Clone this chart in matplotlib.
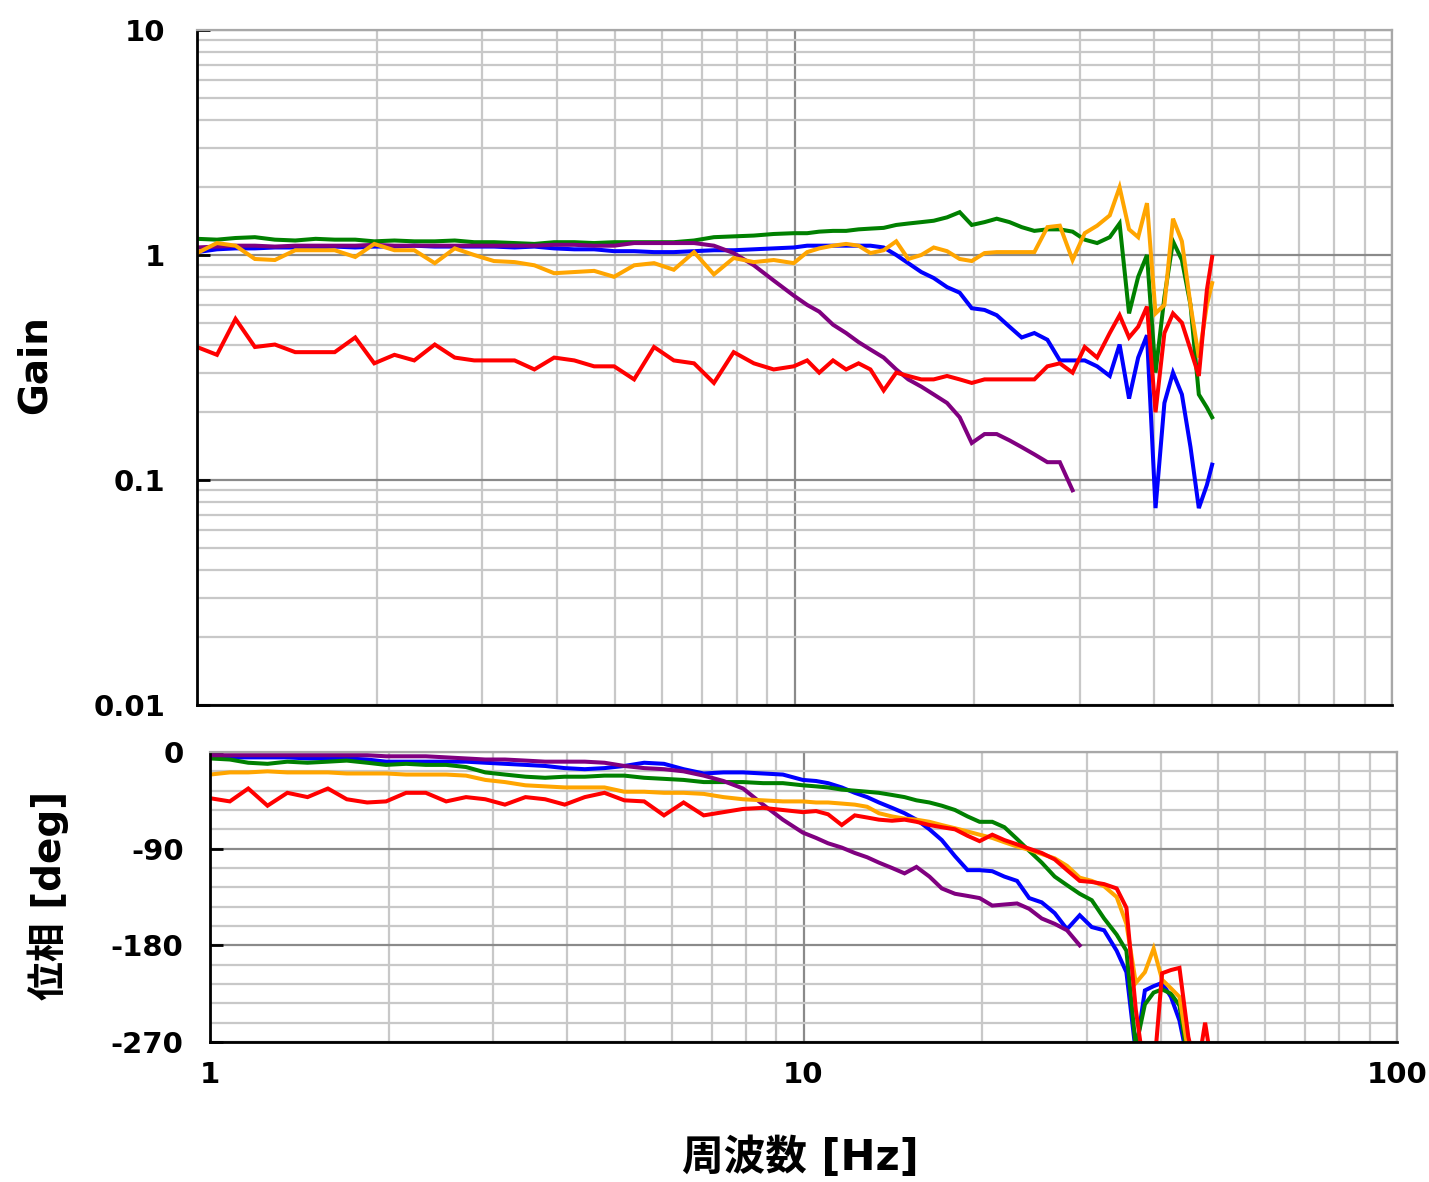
import matplotlib
matplotlib.use("Agg")
import matplotlib.pyplot as plt
import numpy as np
from matplotlib.ticker import LogLocator, FixedLocator, NullFormatter, MultipleLocator

plt.rcParams['font.family'] = ['DejaVu Sans', 'Noto Sans CJK JP']
plt.rcParams['font.weight'] = 'bold'

# ---------------- data ----------------
freq = [1.0, 1.08, 1.16, 1.25, 1.35, 1.46, 1.58, 1.7, 1.84, 1.98,
        2.14, 2.31, 2.5, 2.7, 2.91, 3.14, 3.4, 3.67, 3.96, 4.28,
        4.62, 4.99, 5.39, 5.82, 6.28, 6.79, 7.33, 7.91, 8.55, 9.23,
        9.97, 10.5, 11.0, 11.6, 12.2, 12.8, 13.4, 14.1, 14.8, 15.5,
        16.3, 17.1, 18.0, 18.9, 19.8, 20.8, 21.8, 22.9, 24.0, 25.2,
        26.5, 27.8, 29.2, 30.6, 32.1, 33.7, 35.0, 36.3, 37.6, 38.9,
        40.2, 41.6, 43.0, 44.5, 46.0, 47.5, 49.0, 50.0]

gain_green = [1.18, 1.17, 1.19, 1.2, 1.17, 1.16, 1.18, 1.17, 1.17, 1.15,
              1.16, 1.15, 1.15, 1.16, 1.14, 1.14, 1.13, 1.12, 1.14, 1.14,
              1.13, 1.14, 1.14, 1.14, 1.14, 1.16, 1.2, 1.21, 1.22, 1.24,
              1.25, 1.25, 1.27, 1.28, 1.28, 1.3, 1.31, 1.32, 1.36, 1.38,
              1.4, 1.42, 1.47, 1.55, 1.36, 1.4, 1.45, 1.4, 1.33, 1.28,
              1.3, 1.3, 1.27, 1.17, 1.13, 1.2, 1.38, 0.55, 0.8, 1.0,
              0.3, 0.65, 1.15, 0.95, 0.6, 0.24, 0.21, 0.19]
gain_blue = [1.03, 1.06, 1.07, 1.07, 1.08, 1.08, 1.08, 1.09, 1.08, 1.09,
             1.09, 1.1, 1.09, 1.09, 1.09, 1.09, 1.08, 1.09, 1.07, 1.06,
             1.06, 1.04, 1.04, 1.03, 1.03, 1.04, 1.05, 1.05, 1.06, 1.07,
             1.08, 1.1, 1.1, 1.1, 1.1, 1.1, 1.1, 1.08, 1.0, 0.92,
             0.84, 0.79, 0.72, 0.68, 0.58, 0.57, 0.54, 0.48, 0.43, 0.45,
             0.42, 0.34, 0.34, 0.34, 0.32, 0.29, 0.4, 0.23, 0.35, 0.44,
             0.075, 0.22, 0.3, 0.24, 0.14, 0.075, 0.095, 0.117]
gain_purple = [1.08, 1.09, 1.1, 1.1, 1.09, 1.1, 1.1, 1.1, 1.1, 1.11,
               1.1, 1.1, 1.1, 1.1, 1.1, 1.1, 1.1, 1.1, 1.11, 1.11,
               1.1, 1.1, 1.13, 1.13, 1.13, 1.13, 1.1, 1.02, 0.9, 0.77,
               0.66, 0.6, 0.56, 0.49, 0.45, 0.41, 0.38, 0.35, 0.31, 0.28,
               0.26, 0.24, 0.22, 0.19, 0.146, 0.16, 0.16, 0.15, 0.14, 0.13,
               0.12, 0.12, 0.09]
gain_orange = [1.02, 1.13, 1.1, 0.96, 0.95, 1.05, 1.05, 1.05, 0.98, 1.12,
               1.05, 1.05, 0.92, 1.07, 1.0, 0.94, 0.93, 0.9, 0.83, 0.84,
               0.85, 0.8, 0.9, 0.92, 0.86, 1.03, 0.82, 0.97, 0.93, 0.95,
               0.92, 1.03, 1.07, 1.1, 1.12, 1.1, 1.02, 1.05, 1.15, 0.96,
               1.0, 1.08, 1.04, 0.96, 0.94, 1.02, 1.03, 1.03, 1.03, 1.03,
               1.33, 1.35, 0.95, 1.25, 1.35, 1.5, 2.0, 1.3, 1.2, 1.7,
               0.55, 0.6, 1.45, 1.15, 0.6, 0.35, 0.6, 0.75]
gain_red = [0.39, 0.36, 0.52, 0.39, 0.4, 0.37, 0.37, 0.37, 0.43, 0.33,
            0.36, 0.34, 0.4, 0.35, 0.34, 0.34, 0.34, 0.31, 0.35, 0.34,
            0.32, 0.32, 0.28, 0.39, 0.34, 0.33, 0.27, 0.37, 0.33, 0.31,
            0.32, 0.34, 0.3, 0.34, 0.31, 0.33, 0.31, 0.25, 0.3, 0.29,
            0.28, 0.28, 0.29, 0.28, 0.27, 0.28, 0.28, 0.28, 0.28, 0.28,
            0.32, 0.33, 0.3, 0.39, 0.35, 0.45, 0.54, 0.43, 0.48, 0.59,
            0.2, 0.45, 0.55, 0.5, 0.38, 0.29, 0.7, 0.98]

phase_green = [-6, -7, -10, -11, -9, -10, -9, -8, -10, -12,
               -11, -12, -12, -14, -19, -21, -23, -24, -23, -23,
               -22, -22, -24, -25, -26, -28, -28, -28, -29, -29,
               -31, -32, -33, -35, -36, -37, -38, -40, -42, -45,
               -47, -50, -54, -60, -65, -65, -70, -81, -92, -103,
               -116, -124, -132, -138, -155, -170, -185, -275, -235, -224,
               -221, -225, -236, -290, -300, -300, -300, -300]
phase_blue = [-5, -5, -5, -5, -5, -6, -6, -6, -7, -9,
              -9, -9, -9, -9, -10, -11, -12, -13, -15, -16,
              -15, -13, -10, -11, -16, -20, -19, -19, -20, -21,
              -26, -27, -29, -33, -38, -42, -47, -52, -57, -63,
              -72, -82, -97, -110, -110, -111, -116, -120, -136, -140,
              -150, -165, -152, -163, -166, -185, -205, -280, -222, -218,
              -215, -228, -250, -290, -300, -300, -300, -300]
phase_purple = [-3, -3, -3, -3, -3, -3, -3, -3, -3, -4,
                -4, -4, -5, -6, -7, -7, -8, -9, -9, -9,
                -10, -13, -15, -16, -18, -22, -27, -34, -49, -63,
                -75, -80, -85, -89, -94, -98, -103, -108, -113, -107,
                -116, -127, -132, -134, -136, -143, -142, -141, -146, -155,
                -160, -166, -180]
phase_orange = [-21, -19, -19, -18, -19, -19, -19, -20, -20, -20,
                -21, -21, -21, -22, -26, -28, -31, -32, -33, -33,
                -33, -37, -37, -38, -38, -39, -42, -44, -45, -46,
                -46, -47, -47, -48, -49, -51, -57, -60, -62, -63,
                -65, -68, -71, -74, -77, -80, -84, -88, -91, -95,
                -99, -106, -117, -120, -125, -135, -160, -215, -205, -183,
                -212, -220, -228, -280, -300, -300, -300, -300]
phase_red = [-43, -46, -34, -50, -38, -42, -34, -44, -47, -46,
             -38, -38, -46, -42, -44, -49, -42, -44, -49, -42,
             -38, -45, -46, -59, -47, -59, -56, -53, -52, -54,
             -56, -55, -58, -68, -59, -61, -63, -64, -63, -65,
             -68, -70, -72, -78, -83, -77, -82, -86, -90, -94,
             -100, -110, -120, -121, -123, -127, -145, -240, -300, -300,
             -206, -203, -201, -265, -300, -252, -300, -300]

series = [
    ("blue", "#0000ff", gain_blue, phase_blue),
    ("green", "#008000", gain_green, phase_green),
    ("purple", "#800080", gain_purple, phase_purple),
    ("orange", "#ffa500", gain_orange, phase_orange),
    ("red", "#ff0000", gain_red, phase_red),
]

# ---------------- figure ----------------
W, H = 1429, 1182
fig = plt.figure(figsize=(W / 100, H / 100), dpi=100)

def fr(x0, y0, x1, y1):
    return [x0 / W, 1 - y1 / H, (x1 - x0) / W, (y1 - y0) / H]

ax1 = fig.add_axes(fr(197, 30, 1392, 705))
ax2 = fig.add_axes(fr(210, 752, 1397, 1042))

minor_c = '#c8c8c8'
major_c = '#8a8a8a'

for ax in (ax1, ax2):
    ax.set_xscale('log')
    ax.set_xlim(1, 100)
    ax.xaxis.set_major_locator(LogLocator(base=10, numticks=10))
    ax.xaxis.set_minor_locator(LogLocator(base=10, subs=np.arange(2, 10), numticks=20))
    ax.xaxis.set_minor_formatter(NullFormatter())
    ax.grid(which='minor', color=minor_c, lw=1.6)
    ax.grid(which='major', color=major_c, lw=1.6)
    ax.set_axisbelow(True)
    for s in ('left', 'bottom'):
        ax.spines[s].set_color('black')
        ax.spines[s].set_linewidth(2)
    for s in ('top', 'right'):
        ax.spines[s].set_color('#a8a8a8')
        ax.spines[s].set_linewidth(1.6)
    ax.tick_params(which='minor', length=0)
    ax.tick_params(axis='y', which='major', direction='in', length=9, width=2, color='black')
    ax.tick_params(axis='x', which='major', length=0)

# top: gain
ax1.set_yscale('log')
ax1.set_ylim(0.01, 10)
ax1.yaxis.set_major_locator(FixedLocator([0.01, 0.1, 1, 10]))
ax1.yaxis.set_minor_locator(LogLocator(base=10, subs=np.arange(2, 10), numticks=20))
ax1.yaxis.set_minor_formatter(NullFormatter())
ax1.set_yticklabels(['0.01', '0.1', '1', '10'])
ax1.tick_params(axis='y', which='major', labelsize=21, pad=23)
ax1.tick_params(axis='x', labelbottom=False)

for name, col, g, p in series:
    ax1.plot(freq[:len(g)], g, color=col, lw=2.9, solid_joinstyle='miter')

# bottom: phase
ax2.set_ylim(-270, 0)
ax2.yaxis.set_major_locator(FixedLocator([-270, -180, -90, 0]))
ax2.yaxis.set_minor_locator(MultipleLocator(18))
ax2.set_yticklabels(['-270', '-180', '-90', '0'])
ax2.tick_params(axis='y', which='major', labelsize=21, pad=19)
ax2.set_xticks([1, 10, 100])
ax2.set_xticklabels(['1', '10', '100'])
ax2.tick_params(axis='x', which='major', labelsize=21, pad=14)

for name, col, g, p in series:
    ax2.plot(freq[:len(p)], p, color=col, lw=2.9, solid_joinstyle='miter')

for lab in ax1.get_yticklabels() + ax2.get_yticklabels() + ax2.get_xticklabels():
    lab.set_fontweight('bold')

fig.text(35 / W, 1 - 365 / H, 'Gain', rotation=90, fontsize=28, fontweight='bold',
         ha='center', va='center')
fig.text(48 / W, 1 - 895 / H, '位相 [deg]', rotation=90, fontsize=28, fontweight='bold',
         ha='center', va='center')
fig.text(800 / W, 1 - 1158 / H, '周波数 [Hz]', fontsize=30, fontweight='bold',
         ha='center', va='center')

fig.savefig('out.png', dpi=100)
